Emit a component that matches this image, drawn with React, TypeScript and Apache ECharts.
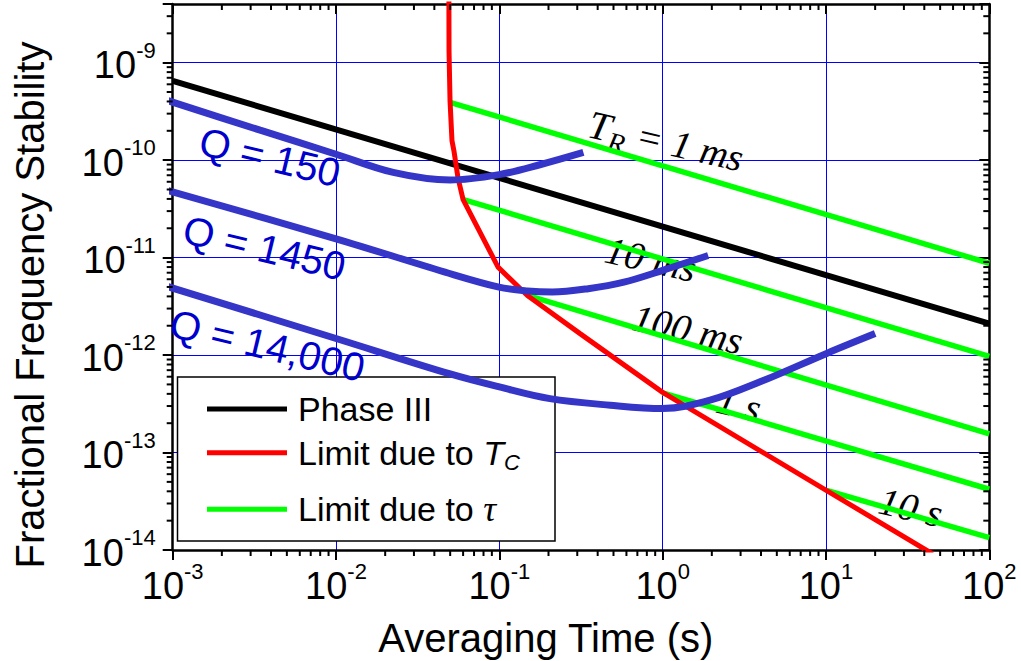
import React, { useEffect, useRef } from "react";
import * as echarts from "echarts";

// ---------- data ----------
const X_MIN = 1e-3;
const X_MAX = 100;
const Y_MIN = 1e-14;
const Y_MAX = 4e-9;

const phaseIII: number[][] = [
  [1e-3, 6.5e-10],
  [100, 2.1e-12],
];

const limitTc: number[][] = [
  [0.0491, 5e-9], [0.0492, 1.32e-9], [0.0499, 4.06e-10], [0.0513, 1.58e-10],
  [0.0527, 1.25e-10], [0.0558, 6.6e-11], [0.06, 3.94e-11], [0.0982, 7.98e-12],
  [0.1485, 4.09e-12], [0.312, 1.66e-12], [1.0, 4.14e-13], [10.1, 4.07e-14],
  [45, 9.1e-15],
];

const tau1ms: number[][] = [[0.0504, 3.9e-10], [100, 8.75e-12]];
const tau10ms: number[][] = [[0.0603, 3.94e-11], [100, 9.7e-13]];
const tau100ms: number[][] = [[0.1485, 4.09e-12], [100, 1.55e-13]];
const tau1s: number[][] = [[1.0, 4.1e-13], [100, 4.2e-14]];
const tau10s: number[][] = [[10.1, 4.1e-14], [100, 1.34e-14]];

const q150: number[][] = [
  [8.76e-4, 4.22e-10], [3.43e-3, 2.03e-10], [0.01, 1.15e-10], [0.0224, 7.48e-11],
  [0.05, 6.25e-11], [0.0995, 7.1e-11], [0.177, 8.97e-11], [0.327, 1.2e-10],
];
const q1450: number[][] = [
  [8.66e-4, 5.06e-11], [0.01, 1.56e-11], [0.0465, 7.1e-12], [0.0995, 4.98e-12],
  [0.1485, 4.55e-12], [0.211, 4.43e-12], [0.35, 4.8e-12], [0.579, 5.6e-12],
  [1.0, 7.4e-12], [1.9, 1.05e-11],
];
const q14000: number[][] = [
  [8.17e-4, 5.4e-12], [0.01, 1.48e-12], [0.05, 6.4e-13], [0.1, 4.71e-13],
  [0.204, 3.57e-13], [0.478, 3.06e-13], [1.0, 2.83e-13], [1.95, 3.44e-13],
  [3.95, 5.31e-13], [10.1, 1.04e-12], [20, 1.66e-12],
];

const minorMantissas = [2, 3, 4, 5, 6, 7, 8, 9];
const xDecades = [-3, -2, -1, 0, 1];
const yDecades = [-14, -13, -12, -11, -10, -9];

const legendItems = [
  { text: "{a|Phase III}", color: "#000000" },
  { text: "{a|Limit due to }{t|T}{c|C}", color: "#FF0000" },
  { text: "{a|Limit due to }{g|τ}", color: "#00FF00" },
];

const qLabels = ["Q = 150", "Q = 1450", "Q = 14,000"];
const tauLabels = ["{t|T}{r|R}{n| = 1 ms}", "{n|10 ms}", "{n|100 ms}", "{n|1 s}", "{n|10 s}"];

// ---------- helpers ----------
const SANS = '"Liberation Sans", Arial, sans-serif';
const SERIF = '"Liberation Serif", "Times New Roman", serif';
const TICK = "#000000";

const xMinor: number[] = [];
xDecades.forEach((d) => minorMantissas.forEach((m) => xMinor.push(m * Math.pow(10, d))));
const yMinor: number[] = [];
yDecades.forEach((d) =>
  minorMantissas.forEach((m) => {
    const v = m * Math.pow(10, d);
    if (v < Y_MAX * 0.999) yMinor.push(v);
  })
);

function powLabel(value: number): string {
  const e = Math.log10(value);
  const r = Math.round(e);
  if (Math.abs(e - r) > 1e-6) return "";
  return `{b|10}{s|${r}}`;
}

const richLabel = {
  b: { fontSize: 38, lineHeight: 40, fontFamily: SANS, color: "#000" },
  s: { fontSize: 22, lineHeight: 22, padding: [0, 0, 30, 0], fontFamily: SANS, color: "#000" },
};

function lineSeries(data: number[][], color: string, width: number, extra: any = {}) {
  return {
    type: "line",
    data,
    showSymbol: false,
    symbol: "none",
    silent: true,
    lineStyle: { color, width, cap: "butt" },
    ...extra,
  };
}

// minor ticks drawn at data positions through the axes' own scales
function tickSeries(data: number[][], dx: number, dy: number) {
  return {
    type: "custom",
    data,
    silent: true,
    clip: false,
    z: 5,
    renderItem: (_params: any, api: any) => {
      const p = api.coord([api.value(0), api.value(1)]);
      return {
        type: "line",
        shape: { x1: p[0], y1: p[1], x2: p[0] + dx, y2: p[1] + dy },
        style: { stroke: TICK, lineWidth: 2 },
      };
    },
  };
}

const majorTick = (inside: boolean) => ({
  show: true,
  inside,
  length: 10,
  lineStyle: { color: TICK, width: 2 },
});

const option: any = {
  animation: false,
  textStyle: { fontFamily: SANS },
  grid: { left: 172.7, right: 31.7, top: 4, bottom: 111, containLabel: false },
  xAxis: [
    {
      type: "log",
      min: X_MIN,
      max: X_MAX,
      position: "bottom",
      axisLine: { lineStyle: { color: "#000", width: 2.5 } },
      axisTick: majorTick(false),
      splitLine: { show: true, lineStyle: { color: "#0000FF", width: 1 } },
      axisLabel: { margin: 16, formatter: powLabel, rich: richLabel },
    },
    {
      type: "log",
      min: X_MIN,
      max: X_MAX,
      position: "top",
      axisLine: { lineStyle: { color: "#000", width: 2.5 } },
      axisTick: majorTick(true),
      splitLine: { show: false },
      axisLabel: { show: false },
    },
  ],
  yAxis: [
    {
      type: "log",
      min: Y_MIN,
      max: Y_MAX,
      position: "left",
      axisLine: { show: true, lineStyle: { color: "#000", width: 2.5 } },
      axisTick: majorTick(false),
      splitLine: { show: true, lineStyle: { color: "#0000FF", width: 1 } },
      axisLabel: { margin: 17, padding: [5, 0, 0, 0], formatter: powLabel, rich: richLabel },
    },
    {
      type: "log",
      min: Y_MIN,
      max: Y_MAX,
      position: "right",
      axisLine: { show: true, lineStyle: { color: "#000", width: 2.5 } },
      axisTick: majorTick(true),
      splitLine: { show: false },
      axisLabel: { show: false },
    },
  ],
  series: [
    lineSeries(phaseIII, "#000000", 6),
    lineSeries(tau1ms, "#00FF00", 5.5),
    lineSeries(tau10ms, "#00FF00", 5.5),
    lineSeries(tau100ms, "#00FF00", 5.5),
    lineSeries(tau1s, "#00FF00", 5.5),
    lineSeries(tau10s, "#00FF00", 5.5),
    lineSeries(limitTc, "#FF0000", 5),
    lineSeries(q150, "#3535C8", 7, { smooth: 0.35, clip: false }),
    lineSeries(q1450, "#3535C8", 7, { smooth: 0.35, clip: false }),
    lineSeries(q14000, "#3535C8", 7, { smooth: 0.35, clip: false }),
    tickSeries(xMinor.map((v) => [v, Y_MIN]), 0, 6),
    tickSeries(xMinor.map((v) => [v, Y_MAX]), 0, 6),
    tickSeries(yMinor.map((v) => [X_MIN, v]), -6, 0),
    tickSeries(yMinor.map((v) => [X_MAX, v]), -6, 0),
  ],
  graphic: [],
};

const legendRowsY = [409, 452.7, 509.3];
const graphics: any[] = [
  {
    type: "rect",
    z: 1,
    shape: { x: 177.5, y: 377, width: 377.5, height: 164 },
    style: { fill: "#FFFFFF", stroke: "#000", lineWidth: 1.5 },
  },
];
legendItems.forEach((it, i) => {
  graphics.push({
    type: "line",
    z: 1,
    shape: { x1: 207, y1: legendRowsY[i], x2: 287, y2: legendRowsY[i] },
    style: { stroke: it.color, lineWidth: 5 },
  });
  graphics.push({
    type: "text",
    z: 1,
    x: 298,
    y: legendRowsY[i],
    style: {
      text: it.text,
      align: "left",
      verticalAlign: "middle",
      fill: "#000",
      rich: {
        a: { fontSize: 34, lineHeight: 40, fontFamily: SANS, fill: "#000" },
        t: { fontSize: 34, lineHeight: 40, fontFamily: SANS, fontStyle: "italic", fill: "#000" },
        c: { fontSize: 22, lineHeight: 22, padding: [20, 0, 0, 0], fontFamily: SANS, fontStyle: "italic", fill: "#000" },
        g: { fontSize: 36, lineHeight: 40, fontFamily: SERIF, fontStyle: "italic", fill: "#000" },
      },
    },
  });
});

const qPos = [
  [270, 157],
  [264.5, 248],
  [267.5, 345.5],
];
qLabels.forEach((t, i) => {
  graphics.push({
    type: "text",
    z: 1,
    x: qPos[i][0],
    y: qPos[i][1],
    rotation: (-13.5 * Math.PI) / 180,
    style: {
      text: t,
      fontSize: 40,
      fontFamily: SANS,
      fill: "#0000CC",
      align: "center",
      verticalAlign: "middle",
    },
  });
});

const tauPos = [
  [666, 141],
  [651, 259],
  [688, 329],
  [739, 404],
  [911, 507],
];
tauLabels.forEach((t, i) => {
  graphics.push({
    type: "text",
    z: 1,
    x: tauPos[i][0],
    y: tauPos[i][1],
    rotation: (-12.8 * Math.PI) / 180,
    style: {
      text: t,
      align: "center",
      verticalAlign: "middle",
      fill: "#000",
      rich: {
        t: { fontSize: 40, lineHeight: 40, fontFamily: SERIF, fontStyle: "italic", fill: "#000" },
        r: { fontSize: 28, lineHeight: 28, padding: [26, 0, 0, 0], fontFamily: SERIF, fontStyle: "italic", fill: "#000" },
        n: { fontSize: 39, lineHeight: 40, fontFamily: SERIF, fontStyle: "italic", fill: "#000" },
      },
    },
  });
});

graphics.push({
  type: "text",
  z: 1,
  x: 30,
  y: 305,
  rotation: Math.PI / 2,
  style: {
    text: "Fractional Frequency Stability",
    fontSize: 40,
    fontFamily: SANS,
    fill: "#000",
    align: "center",
    verticalAlign: "middle",
  },
});
graphics.push({
  type: "text",
  z: 1,
  x: 545.8,
  y: 638,
  style: {
    text: "Averaging Time (s)",
    fontSize: 40,
    fontFamily: SANS,
    fill: "#000",
    align: "center",
    verticalAlign: "middle",
  },
});
option.graphic = graphics;

export default function App() {
  const ref = useRef<HTMLDivElement>(null);
  useEffect(() => {
    if (!ref.current) return;
    const chart = echarts.init(ref.current, null, { renderer: "svg" });
    chart.setOption(option);
    return () => chart.dispose();
  }, []);
  return (
    <div
      ref={ref}
      style={{ position: "fixed", left: 0, top: 0, width: 1021, height: 661, background: "#FFFFFF" }}
    />
  );
}
